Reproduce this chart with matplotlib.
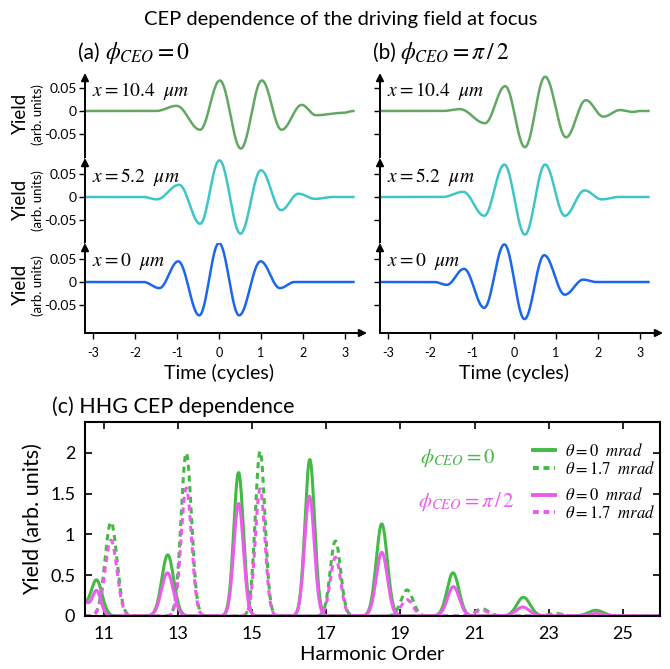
import numpy as np
import matplotlib
matplotlib.use("Agg")
import matplotlib.pyplot as plt
from matplotlib.lines import Line2D

plt.rcParams["font.family"] = ["Lato", "DejaVu Sans"]
plt.rcParams["mathtext.fontset"] = "stix"
plt.rcParams["axes.unicode_minus"] = False

# ===== data: driving field extrema (time in cycles, field) =====
t_span = (-3.2, 3.2)
# phi_CEO = 0
a_x104_t = [-1.5, -1.01, -0.45, 0.02, 0.52, 1.02, 1.49, 1.97, 2.31, 2.95]
a_x104_y = [0.0, 0.011, -0.040, 0.065, -0.080, 0.065, -0.040, 0.013, -0.009, -0.004]
a_x52_t = [-1.8, -1.48, -0.95, -0.45, 0.01, 0.51, 1.00, 1.48, 1.89, 2.29, 2.7]
a_x52_y = [0.0, -0.005, 0.026, -0.057, 0.078, -0.078, 0.057, -0.028, 0.007, -0.004, 0.0]
a_x0_t = [-1.8, -1.42, -0.97, -0.47, 0.0, 0.48, 0.99, 1.45, 1.8]
a_x0_y = [0.0, -0.013, 0.044, -0.071, 0.083, -0.071, 0.044, -0.013, 0.0]
# phi_CEO = pi/2
b_x104_t = [-1.7, -1.29, -0.69, -0.21, 0.26, 0.74, 1.24, 1.71, 2.13, 2.52, 2.83, 3.0]
b_x104_y = [0.0, 0.004, -0.026, 0.053, -0.077, 0.073, -0.056, 0.023, -0.012, 0.002, -0.002, 0.0]
b_x52_t = [-1.7, -1.21, -0.71, -0.23, 0.26, 0.74, 1.21, 1.68, 2.09, 2.5]
b_x52_y = [0.0, 0.011, -0.040, 0.069, -0.080, 0.069, -0.040, 0.014, -0.005, 0.0]
b_x0_t = [-1.9, -1.60, -1.19, -0.71, -0.23, 0.25, 0.72, 1.21, 1.65, 1.95]
b_x0_y = [0.0, -0.006, 0.028, -0.055, 0.080, -0.079, 0.057, -0.027, 0.005, 0.0]

positions = ["10.4", "5.2", "0"]

# ===== data: HHG spectra (harmonic centre, peak yield, peak width) =====
g0_c = [10.40, 10.81, 12.73, 14.64, 16.56, 18.50, 20.42, 22.32, 24.27]
g0_h = [0.15, 0.44, 0.75, 1.76, 1.92, 1.13, 0.53, 0.23, 0.07]
g0_w = [0.15, 0.15, 0.16, 0.13, 0.13, 0.15, 0.16, 0.18, 0.20]
g17_c = [11.20, 13.23, 15.22, 17.25, 19.18, 21.20, 23.20]
g17_h = [1.15, 2.00, 2.02, 0.92, 0.32, 0.09, 0.03]
g17_w = [0.16, 0.14, 0.13, 0.14, 0.16, 0.18, 0.18]
m0_c = [10.45, 10.81, 12.72, 14.64, 16.55, 18.50, 20.43, 22.30, 24.30]
m0_h = [0.19, 0.31, 0.53, 1.38, 1.47, 0.78, 0.36, 0.11, 0.03]
m0_w = [0.13, 0.12, 0.16, 0.13, 0.13, 0.15, 0.16, 0.18, 0.20]
m17_c = [11.20, 13.23, 15.22, 17.25, 19.18, 21.20, 23.20]
m17_h = [0.93, 1.57, 1.56, 0.72, 0.20, 0.07, 0.02]
m17_w = [0.16, 0.14, 0.13, 0.14, 0.16, 0.18, 0.18]

GREEN_W, CYAN_W, BLUE_W = "#62a862", "#3ec6c6", "#1a66ee"
GREEN, MAGENTA = "#45b945", "#ec5cec"

W, H = 670, 669


def rect(l, t, r, b):
    return [l / W, 1 - b / H, (r - l) / W, (b - t) / H]


def wave(tk, yk, n=40):
    # smooth half-cosine strokes between the read extrema
    tk = [t_span[0]] + list(tk) + [t_span[1]]
    yk = [0.0] + list(yk) + [0.0]
    ts, ys = [], []
    for i in range(len(tk) - 1):
        s = np.linspace(0, 1, n, endpoint=False)
        ts.append(tk[i] + (tk[i + 1] - tk[i]) * s)
        ys.append(yk[i] + (yk[i + 1] - yk[i]) * (1 - np.cos(np.pi * s)) / 2)
    ts.append([tk[-1]])
    ys.append([yk[-1]])
    return np.concatenate(ts), np.concatenate(ys)


def spectrum(x, centers, heights, widths):
    y = np.zeros_like(x)
    for c, h, w in zip(centers, heights, widths):
        y += h * np.exp(-(x - c) ** 2 / (2 * w ** 2))
    return y


fig = plt.figure(figsize=(6.7, 6.69), dpi=100)

fig.text(341 / W, 1 - 19 / H, "CEP dependence of the driving field at focus",
         ha="center", va="center", fontsize=14.5)

rows = [(73, 158, 111), (158, 243, 197), (243, 333, 282)]
scale = 0.00213  # field units per pixel
panels = [
    (85, 367, 219, "(a)", r"$\phi_{CEO}=0$",
     [(a_x104_t, a_x104_y), (a_x52_t, a_x52_y), (a_x0_t, a_x0_y)], True),
    (380, 663, 514, "(b)", r"$\phi_{CEO}=\pi\,/\,2$",
     [(b_x104_t, b_x104_y), (b_x52_t, b_x52_y), (b_x0_t, b_x0_y)], False),
]
colors = [GREEN_W, CYAN_W, BLUE_W]

for left, right, t0, tag, phi, curves, labels in panels:
    for i, ((top, bot, zero), (tk, yk), col, pos) in enumerate(zip(rows, curves, colors, positions)):
        ax = fig.add_axes(rect(left, top, right, bot))
        ax.set_xlim((left - t0) / 42, (right - t0) / 42)
        ax.set_ylim(-(bot - zero) * scale, (zero - top) * scale)
        t, y = wave(tk, yk)
        ax.plot(t, y, color=col, lw=1.8)
        for s in ax.spines.values():
            s.set_visible(False)
        ax.annotate("", xy=(0, 1), xytext=(0, 0), xycoords="axes fraction",
                    arrowprops=dict(arrowstyle="-|>", lw=1.4, color="k",
                                    mutation_scale=11, shrinkA=0, shrinkB=0),
                    annotation_clip=False)
        ax.set_yticks([-0.05, 0, 0.05])
        ax.tick_params(axis="y", direction="out", length=4, width=1, pad=2,
                       labelsize=10, labelleft=labels)
        ax.set_yticklabels(["-0.05", "0", "0.05"])
        ax.text(7 / (right - left), (zero - 20 - bot) / (top - bot), rf"$x={pos}\ \ \mu m$",
                transform=ax.transAxes, fontsize=14, va="center", ha="left")
        if i == 2:
            ax.annotate("", xy=(1, 0), xytext=(0, 0), xycoords="axes fraction",
                        arrowprops=dict(arrowstyle="-|>", lw=1.4, color="k",
                                        mutation_scale=11, shrinkA=0, shrinkB=0),
                        annotation_clip=False)
            ax.set_xticks([-3, -2, -1, 0, 1, 2, 3])
            ax.tick_params(axis="x", direction="out", length=4, width=1, pad=6, labelsize=9)
        else:
            ax.set_xticks([])
        if labels:
            fig.text(20 / W, 1 - (zero + 2) / H, "Yield", rotation=90,
                     ha="center", va="center", fontsize=13.5)
            fig.text(38 / W, 1 - (zero + 4) / H, "(arb. units)", rotation=90,
                     ha="center", va="center", fontsize=9.5)
    fig.text((left - 7) / W, 1 - 53 / H, tag, ha="left", va="center", fontsize=15)
    fig.text((left + 20) / W, 1 - 53 / H, phi, ha="left", va="center", fontsize=17)
    fig.text(t0 / W, 1 - 373 / H, "Time (cycles)", ha="center", va="center", fontsize=14)

# ===== panel (c) =====
axc = fig.add_axes(rect(85, 422, 660, 616))
harm = np.linspace(10.4, 26.1, 2000)
axc.plot(harm, spectrum(harm, g0_c, g0_h, g0_w), color=GREEN, lw=2.2)
axc.plot(harm, spectrum(harm, g17_c, g17_h, g17_w), color=GREEN, lw=2.2, dashes=(2, 1.5))
axc.plot(harm, spectrum(harm, m0_c, m0_h, m0_w), color=MAGENTA, lw=2.2)
axc.plot(harm, spectrum(harm, m17_c, m17_h, m17_w), color=MAGENTA, lw=2.2, dashes=(2, 1.5))
axc.set_xlim(10.5, 26.0)
axc.set_ylim(0, 2.38)
axc.set_xticks(range(11, 26, 2))
axc.set_yticks([0, 0.5, 1, 1.5, 2])
axc.set_yticklabels(["0", "0.5", "1", "1.5", "2"])
axc.tick_params(direction="in", top=True, right=True, length=5, width=1.2,
                labelsize=13, pad=7)
for s in axc.spines.values():
    s.set_linewidth(1.5)
axc.set_xlabel("Harmonic Order", fontsize=14.5, labelpad=3)
axc.set_ylabel("Yield (arb. units)", fontsize=15.5, labelpad=5)
fig.text(52 / W, 1 - 407 / H, "(c) HHG CEP dependence", ha="left", va="center", fontsize=15.5)

axc.text(0.649, 0.814, r"$\phi_{CEO}=0$", color=GREEN, fontsize=15,
         transform=axc.transAxes, ha="center", va="center")
axc.text(0.664, 0.588, r"$\phi_{CEO}=\pi\,/\,2$", color=MAGENTA, fontsize=15,
         transform=axc.transAxes, ha="center", va="center")

lab0 = r"$\theta=0\ \ mrad$"
lab17 = r"$\theta=1.7\ \ mrad$"
h_g = [Line2D([], [], color=GREEN, lw=2.8), Line2D([], [], color=GREEN, lw=2.8, dashes=(1.5, 1.2))]
h_m = [Line2D([], [], color=MAGENTA, lw=2.8), Line2D([], [], color=MAGENTA, lw=2.8, dashes=(1.5, 1.2))]
leg_kw = dict(loc="center left", frameon=False, fontsize=12, handlelength=1.35,
              handletextpad=0.6, labelspacing=0.05, borderpad=0, borderaxespad=0)
leg1 = axc.legend(h_g, [lab0, lab17], bbox_to_anchor=(0.779, 0.807), **leg_kw)
axc.add_artist(leg1)
axc.legend(h_m, [lab0, lab17], bbox_to_anchor=(0.779, 0.578), **leg_kw)

fig.savefig("out.png", dpi=100)
